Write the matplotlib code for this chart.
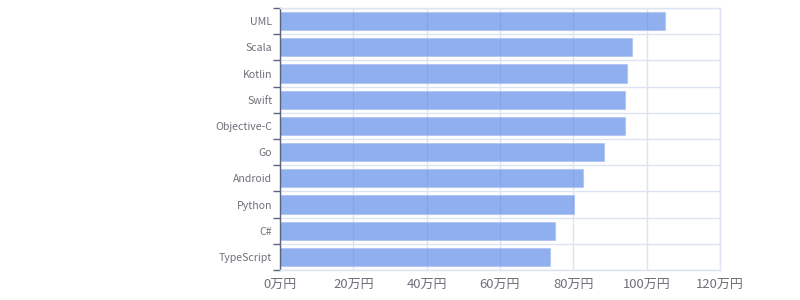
import matplotlib.pyplot as plt
import numpy as np

plt.rcParams['font.family'] = ['Noto Sans CJK JP', 'DejaVu Sans']

# データ (上から順)
languages = ['UML', 'Scala', 'Kotlin', 'Swift', 'Objective-C',
             'Go', 'Android', 'Python', 'C#', 'TypeScript']
salaries = [105.0, 96.0, 94.6, 94.0, 94.0, 88.3, 82.5, 80.1, 75.0, 73.5]
xticks = [0, 20, 40, 60, 80, 100, 120]
xtick_labels = [f'{v}万円' for v in xticks]

grid_color = '#dde3f0'
label_color = '#6e7079'

fig = plt.figure(figsize=(8, 3), dpi=100)
ax = fig.add_axes([0.35, 0.1, 0.55, 0.8733])

n = len(languages)
pos = np.arange(n)[::-1]
ax.barh(pos, salaries, height=0.69, color='#5b8ae8', alpha=0.68,
        edgecolor='#a9c1f2', linewidth=0.8, zorder=2)

ax.set_xlim(0, 120)
ax.set_ylim(-0.5, n - 0.5)

ax.set_xticks(xticks)
ax.set_xticklabels(xtick_labels)
ax.set_yticks(pos)
ax.set_yticklabels(languages)
ax.set_yticks(np.arange(n + 1) - 0.5, minor=True)

ax.tick_params(axis='x', length=0, pad=6, labelsize=9.4, labelcolor=label_color)
ax.tick_params(axis='y', which='major', length=0, pad=5.5, labelsize=7.6,
               labelcolor=label_color)
ax.tick_params(axis='y', which='minor', length=5, width=1, color='#5b6478')

ax.grid(True, axis='x', color=grid_color, linewidth=1, zorder=0)
ax.grid(True, axis='y', which='minor', color=grid_color, linewidth=1, zorder=0)
ax.set_axisbelow(True)

for side in ['top', 'right', 'bottom']:
    ax.spines[side].set_color(grid_color)
    ax.spines[side].set_linewidth(1)
ax.spines['left'].set_color('#5b6478')
ax.spines['left'].set_linewidth(1)

fig.savefig('out.png', dpi=100)
